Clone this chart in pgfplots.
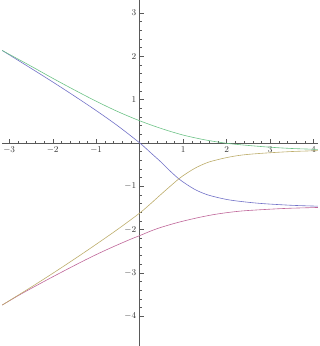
\documentclass[border=0pt]{standalone}
\usepackage{pgfplots}
\pgfplotsset{compat=1.18}
\definecolor{mblue}{rgb}{0.44,0.44,0.78}
\definecolor{mred}{rgb}{0.75,0.40,0.60}
\definecolor{myel}{rgb}{0.74,0.68,0.42}
\definecolor{mgreen}{rgb}{0.42,0.76,0.52}
\begin{document}
\begin{tikzpicture}
\begin{axis}[
  scale only axis,
  width=316bp, height=346bp,
  xmin=-3.16, xmax=4.1, ymin=-4.68, ymax=3.29,
  axis lines=middle,
  axis line style={-, line width=0.4pt, gray!70!black},
  xtick={-3,-2,-1,0,1,2,3,4},
  xticklabels={$-3$,$-2$,$-1$,,$1$,$2$,$3$,$4$},
  ytick={-4,-3,-2,-1,0,1,2,3},
  yticklabels={$-4$,$-3$,$-2$,$-1$,,$1$,$2$,$3$},
  minor tick num=4,
  tick style={gray!70!black, line width=0.3pt},
  major tick length=4bp, minor tick length=2.2bp,
  tick align=inside,
  ticklabel style={font=\small, text=black!80},
  clip=true,
]
% blue
\addplot[mblue, line width=0.6pt, smooth] coordinates {
(-3.16,2.13) (-2.5,1.72) (-2,1.405) (-1.5,1.08) (-1,0.745) (-0.5,0.39) (0,0.00) (0.29,-0.26) (0.5,-0.45) (0.67,-0.62) (0.89,-0.82) (1.1,-0.97) (1.32,-1.10) (1.6,-1.21) (2,-1.305) (2.36,-1.355) (2.82,-1.40) (3.5,-1.44) (4.1,-1.46)};
% red
\addplot[mred, line width=0.6pt, smooth] coordinates {
(-3.16,-3.74) (-2.7,-3.47) (-2,-3.09) (-1.25,-2.70) (-0.75,-2.46) (-0.25,-2.24) (0,-2.14) (0.29,-2.02) (0.52,-1.94) (0.9,-1.83) (1.32,-1.73) (1.67,-1.66) (2.0,-1.61) (2.36,-1.57) (2.82,-1.54) (3.4,-1.51) (4.1,-1.49)};
% yellow
\addplot[myel, line width=0.6pt, smooth] coordinates {
(-3.16,-3.74) (-2.5,-3.33) (-2,-3.01) (-1.5,-2.68) (-1,-2.34) (-0.5,-1.99) (0,-1.62) (0.29,-1.37) (0.5,-1.18) (0.89,-0.84) (1.1,-0.69) (1.32,-0.56) (1.6,-0.44) (2,-0.34) (2.36,-0.28) (2.82,-0.24) (3.5,-0.20) (4.1,-0.18)};
% green
\addplot[mgreen, line width=0.6pt, smooth] coordinates {
(-3.16,2.13) (-2.5,1.77) (-2,1.49) (-1.5,1.22) (-1,0.96) (-0.5,0.72) (0,0.51) (0.5,0.33) (1,0.18) (1.5,0.07) (2,-0.01) (2.5,-0.06) (3,-0.10) (3.5,-0.13) (4.1,-0.15)};
\end{axis}
\end{tikzpicture}
\end{document}
